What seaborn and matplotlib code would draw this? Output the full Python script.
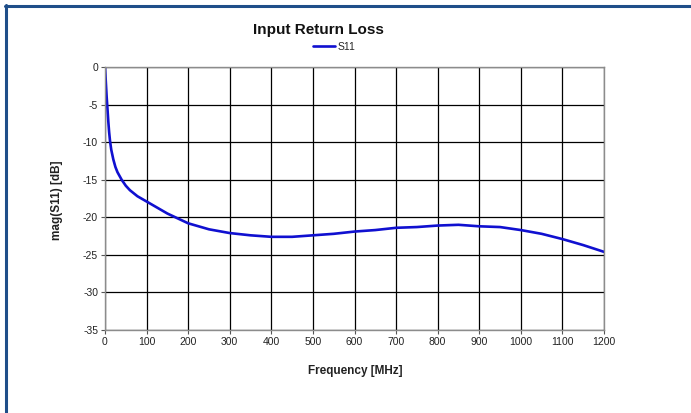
import matplotlib
matplotlib.use("Agg")
import matplotlib.pyplot as plt
from matplotlib.lines import Line2D
import pandas as pd
import seaborn as sns

# S11 values
freq_mhz = [0, 2, 4, 6, 8, 10, 12, 15, 20, 25, 30, 40, 50, 60, 78, 100, 150, 200,
            250, 300, 350, 400, 450, 500, 550, 600, 650, 700, 750, 800, 850, 900,
            950, 1000, 1050, 1100, 1150, 1200]
s11_db = [0, -2.0, -4.0, -5.6, -7.3, -8.7, -9.8, -11.0, -12.3, -13.3, -14.0,
          -15.0, -15.8, -16.4, -17.2, -17.9, -19.5, -20.8, -21.6, -22.1, -22.4,
          -22.6, -22.6, -22.4, -22.2, -21.9, -21.7, -21.4, -21.3, -21.1, -21.0,
          -21.2, -21.3, -21.7, -22.2, -22.9, -23.7, -24.6]
x_ticks = list(range(0, 1201, 100))
y_ticks = list(range(-35, 1, 5))

df = pd.DataFrame({"Frequency": freq_mhz, "S11": s11_db})

sns.set_style("white")
plt.rcParams["font.family"] = ["Liberation Sans", "DejaVu Sans"]
plt.rcParams["axes.unicode_minus"] = False

fig = plt.figure(figsize=(6.91, 4.13), dpi=100)
ax = fig.add_axes([105 / 691, 1 - 330 / 413, (604 - 105) / 691, (330 - 67) / 413])

sns.lineplot(data=df, x="Frequency", y="S11", ax=ax, color="#1010d0", linewidth=1.9, label="S11")

ax.set_xlim(0, 1200)
ax.set_ylim(-35, 0)
ax.set_xticks(x_ticks)
ax.set_yticks(y_ticks)
ax.grid(True, color="black", linewidth=0.9)
ax.set_axisbelow(True)
for side in ["left", "bottom", "right", "top"]:
    ax.spines[side].set_color("#8c8c8c")
    ax.spines[side].set_linewidth(1.0)
ax.tick_params(axis="both", which="both", direction="out", length=3, width=0.8,
               color="#555555", labelsize=7.5, labelcolor="#222222", pad=2)
ax.tick_params(axis="x", bottom=True)
ax.tick_params(axis="y", left=True)
ax.set_xlabel("")
ax.set_ylabel("")

fig.text(355 / 691, 1 - 371 / 413, "Frequency [MHz]", ha="center", va="center",
         fontsize=8.5, fontweight="bold", color="#222222")
fig.text(57 / 691, 1 - 200 / 413, "mag(S11) [dB]", ha="center", va="center",
         rotation=90, fontsize=8.5, fontweight="bold", color="#222222")
fig.text(318 / 691, 1 - 30 / 413, "Input Return Loss", ha="center", va="center",
         fontsize=11, fontweight="bold", color="#111111")

ax.legend(loc="center", bbox_to_anchor=(334 / 691, 1 - 47 / 413),
          bbox_transform=fig.transFigure, frameon=False, fontsize=7.5,
          handlelength=2.2, handletextpad=0.2, borderpad=0)

# dark blue frame on top and left
frame_col = "#1f4e89"
fig.add_artist(Line2D([5 / 691, 1], [1 - 5.5 / 413, 1 - 5.5 / 413],
                      transform=fig.transFigure, color=frame_col, linewidth=2.2))
fig.add_artist(Line2D([6 / 691, 6 / 691], [1 - 5 / 413, 0],
                      transform=fig.transFigure, color=frame_col, linewidth=2.2))

fig.savefig("out.png", dpi=100)
